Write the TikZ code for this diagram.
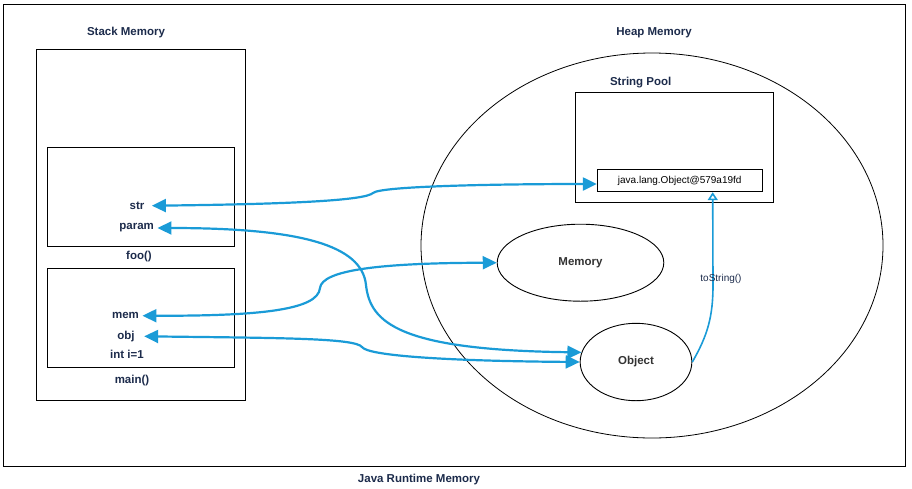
\documentclass[tikz,border=0pt]{standalone}
\usepackage{fontspec}
\setmainfont{Liberation Sans}
\usetikzlibrary{arrows.meta,shapes.geometric}
\definecolor{navy}{HTML}{1C2B4B}
\definecolor{ptrblue}{HTML}{1A9BD7}
\definecolor{objgray}{HTML}{333333}
\tikzset{
  lbl/.style={text=navy,font=\fontsize{11.5}{13}\selectfont\bfseries},
  heapobj/.style={draw,ellipse,line width=0.9pt,inner sep=0pt,text=objgray,font=\fontsize{11.5}{13}\selectfont\bfseries},
  ref/.style={color=ptrblue,line width=2.2pt,{Triangle[length=14pt,width=13pt]}-{Triangle[length=14pt,width=13pt]}},
  tostr/.style={color=ptrblue,line width=1.6pt,-{Triangle[open,length=8pt,width=10pt]}}
}
\begin{document}
\begin{tikzpicture}[x=1pt,y=-1pt]
\useasboundingbox (0,0) rectangle (912,488);
\draw[line width=1pt] (3.5,4.5) rectangle (905,466);
\node[lbl] (runtime) at (419,479.5) {Java Runtime Memory};
\node[lbl] (stacklbl) at (126,33) {Stack Memory};
\draw[line width=1pt] (36.7,49) rectangle (245.7,400);
\draw[line width=1pt] (47.7,147.7) rectangle (234.7,246.7);
\draw[line width=1pt] (47.7,268.3) rectangle (234.7,367.7);
\node[lbl] (foo) at (139,256.3) {foo()};
\node[lbl] (main) at (132,380.7) {main()};
\node[lbl] (str) at (137,205.7) {str};
\node[lbl] (param) at (136.7,228) {param};
\node[lbl] (mem) at (125.5,315.7) {mem};
\node[lbl] (obj) at (126,336.3) {obj};
\node[lbl] (inti) at (127,354) {int i=1};
\node[lbl] (heaplbl) at (654,33) {Heap Memory};
\draw[line width=0.8pt] (652,245.5) ellipse [x radius=231pt, y radius=192.5pt];
\node[lbl] (poollbl) at (640.7,82.3) {String Pool};
\draw[line width=1pt] (575.3,92.7) rectangle (773.3,202.3);
\node[draw,line width=1pt,minimum width=164.7pt,minimum height=22pt,font=\fontsize{10}{12}\selectfont] (jobj) at (679.7,180.7) {java.lang.Object@579a19fd};
\node[heapobj,minimum width=166.6pt,minimum height=77pt] (memory) at (580.5,262.7) {Memory};
\node[heapobj,minimum width=111.7pt,minimum height=77.4pt] (object) at (636,362) {Object};
\draw[ref] ([xshift=4pt]str.east) .. controls (300,204) and (365,200) .. (373,193) .. controls (380,186) and (500,184) .. ([yshift=-3.3pt]jobj.west);
\draw[ref] (param.east) .. controls (300,228) and (362,245) .. (366,285) .. controls (370,323) and (400,350) .. (object.170);
\draw[ref] (mem.east) .. controls (260,316) and (318,310) .. (320,288) .. controls (322,270) and (380,263) .. (memory.west);
\draw[ref] ([xshift=6pt]obj.east) .. controls (280,338) and (355,338) .. (362,347) .. controls (368,356) and (450,361) .. (object.west);
\draw[tostr] (object.east) to[out=60,in=-90] (713,285) -- ([xshift=33pt]jobj.south);
\node[text=navy,font=\fontsize{10}{12}\selectfont] (tostrlbl) at (721,279) {toString()};
\end{tikzpicture}
\end{document}
